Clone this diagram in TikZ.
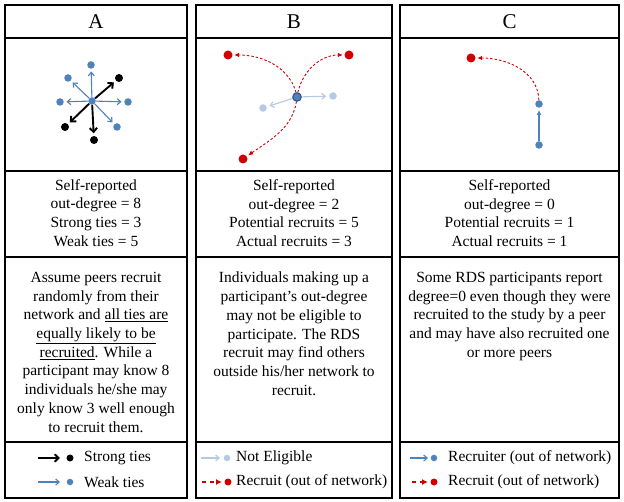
\documentclass[tikz,border=0pt]{standalone}
\usepackage{fontspec}
\setmainfont{Liberation Serif}
\usetikzlibrary{arrows.meta}
\definecolor{wblue}{HTML}{4F81BD}
\definecolor{dblue}{HTML}{2E5184}
\definecolor{lblue}{HTML}{B4C9E4}
\definecolor{rred}{HTML}{D20000}
\begin{document}
\begin{tikzpicture}[x=1pt,y=-1pt,
  cell/.style={draw=black,line width=1.8pt},
  hdr/.style={font=\fontsize{21}{24}\selectfont,inner sep=0pt},
  txt/.style={align=center,font=\fontsize{15.5}{18.7}\selectfont,inner sep=0pt},
  leg/.style={anchor=west,font=\fontsize{15.5}{18.7}\selectfont,inner sep=0pt},
  dotb/.style={circle,fill=wblue,inner sep=0pt,minimum size=7.5pt},
  dotk/.style={circle,fill=black,inner sep=0pt,minimum size=8pt},
  dotl/.style={circle,fill=lblue,inner sep=0pt,minimum size=7.5pt},
  dotr/.style={circle,fill=rred,inner sep=0pt,minimum size=9pt},
  dotc/.style={circle,fill=wblue,draw=dblue,line width=1pt,inner sep=0pt,minimum size=8.5pt},
  weak/.style={draw=wblue,line width=1.1pt,-{Straight Barb[length=3.5pt,width=6pt]}},
  strong/.style={draw=black,line width=1.9pt,-{Straight Barb[length=4pt,width=7.5pt]}},
  inel/.style={draw=lblue,line width=1.1pt,-{Straight Barb[length=3.5pt,width=6pt]}},
  recr/.style={draw=rred,line width=0.9pt,dash pattern=on 2.5pt off 2pt,-{Latex[length=5pt,width=4.5pt]}},
  recrleg/.style={draw=rred,line width=1.6pt,dash pattern=on 4pt off 3.5pt,-{Latex[length=6pt,width=6pt]}},
  recrup/.style={draw=wblue,line width=1.1pt,-{Latex[length=5pt,width=5pt]}}
]
\useasboundingbox[fill=white] (0,0) rectangle (624,502);
% table cells
\foreach \xa/\xb in {5/187,196/392,400/619}{
  \foreach \ya/\yb in {5/38,38/171,171/257,257/442,442/498}{
    \draw[cell] (\xa,\ya) rectangle (\xb,\yb);
  }
}
% headers
\node[hdr] (hA) at (96,21.5) {A};
\node[hdr] (hB) at (294,21.5) {B};
\node[hdr] (hC) at (509.5,21.5) {C};

% ---- Panel A graphic
\node[dotb] (ac) at (92,101) {};
\node[dotb] (at) at (91,65) {};
\node[dotb] (aul) at (68,78) {};
\node[dotb] (al) at (60,102) {};
\node[dotb] (ar) at (128,102) {};
\node[dotb] (alr) at (117,127) {};
\node[dotk] (aur) at (119,78) {};
\node[dotk] (all) at (65,127) {};
\node[dotk] (ab) at (94,140) {};
\foreach \d in {at,aul,al,ar,alr}{\draw[weak,shorten >=2.5pt] (ac) -- (\d);}
\foreach \d in {aur,all,ab}{\draw[strong,shorten >=2.5pt] (ac) -- (\d);}

% ---- Panel B graphic
\node[dotl] (bl1) at (333,96) {};
\node[dotl] (bl2) at (263,108) {};
\node[dotr] (btl) at (228,55) {};
\node[dotr] (btr) at (349,55) {};
\node[dotr] (bb) at (243,159) {};
\draw[inel,shorten >=3pt] (297,97) -- (bl1);
\draw[inel,shorten >=3pt] (297,97) -- (bl2);
\draw[recr,shorten >=1.5pt] (297,97) to[out=100,in=0] (btl);
\draw[recr,shorten >=1.5pt] (297,97) to[out=82,in=180] (btr);
\draw[recr,shorten >=1.5pt] (297,97) to[out=-95,in=35] (bb);
\node[dotc] (bc) at (297,97) {};

% ---- Panel C graphic
\node[dotr] (cr) at (471,58) {};
\node[dotb] (cu) at (539,104) {};
\node[dotb] (cl) at (539,145) {};
\draw[recrup,shorten >=2pt] (cl) -- (cu);
\draw[recr,shorten >=1.5pt] (cu) to[out=92,in=0] (cr);

% ---- stats
\node[txt] (sA) at (96,213) {Self-reported\\out-degree = 8\\Strong ties = 3\\Weak ties = 5};
\node[txt] (sB) at (294,213) {Self-reported\\out-degree = 2\\Potential recruits = 5\\Actual recruits = 3};
\node[txt] (sC) at (509.5,213) {Self-reported\\out-degree = 0\\Potential recruits = 1\\Actual recruits = 1};

% ---- descriptions
\node[txt,anchor=north] (dA) at (96,272) {Assume peers recruit\\randomly from their\\network and \underline{all ties are}\\\underline{equally likely to be}\\\underline{recruited}. While a\\participant may know 8\\individuals he/she may\\only know 3 well enough\\to recruit them.};
\node[txt,anchor=north] (dB) at (294,272) {Individuals making up a\\participant’s out-degree\\may not be eligible to\\participate. The RDS\\recruit may find others\\outside his/her network to\\recruit.};
\node[txt,anchor=north] (dC) at (509.5,272) {Some RDS participants report\\degree=0 even though they were\\recruited to the study by a peer\\and may have also recruited one\\or more peers};

% ---- legends
% A
\coordinate (la1s) at (38,458); \coordinate (la1e) at (60,458);
\node[dotk,minimum size=7pt] (la1d) at (70,458) {};
\draw[strong] (la1s) -- (la1e);
\node[leg] (lA1) at (84,458) {Strong ties};
\coordinate (la2s) at (38,482); \coordinate (la2e) at (60,482);
\node[dotb,minimum size=6.5pt] (la2d) at (70,482) {};
\draw[weak] (la2s) -- (la2e);
\node[leg] (lA2) at (84,482) {Weak ties};
% B
\coordinate (lb1s) at (201,458); \coordinate (lb1e) at (220,458);
\node[dotl,minimum size=6.5pt] (lb1d) at (227,458) {};
\draw[inel] (lb1s) -- (lb1e);
\node[leg] (lB1) at (236,458) {Not Eligible};
\coordinate (lb2s) at (202,482); \coordinate (lb2e) at (222,482);
\node[dotr,minimum size=7pt] (lb2d) at (228,482) {};
\draw[recrleg] (lb2s) -- (lb2e);
\node[leg] (lB2) at (236,482) {Recruit (out of network)};
% C
\coordinate (lc1s) at (410,458); \coordinate (lc1e) at (428,458);
\node[dotb,minimum size=6.5pt] (lc1d) at (434,458) {};
\draw[weak] (lc1s) -- (lc1e);
\node[leg] (lC1) at (448,458) {Recruiter (out of network)};
\coordinate (lc2s) at (412,482); \coordinate (lc2e) at (428,482);
\node[dotr,minimum size=7pt] (lc2d) at (434,482) {};
\draw[recrleg] (lc2s) -- (lc2e);
\node[leg] (lC2) at (448,482) {Recruit (out of network)};
\end{tikzpicture}
\end{document}
